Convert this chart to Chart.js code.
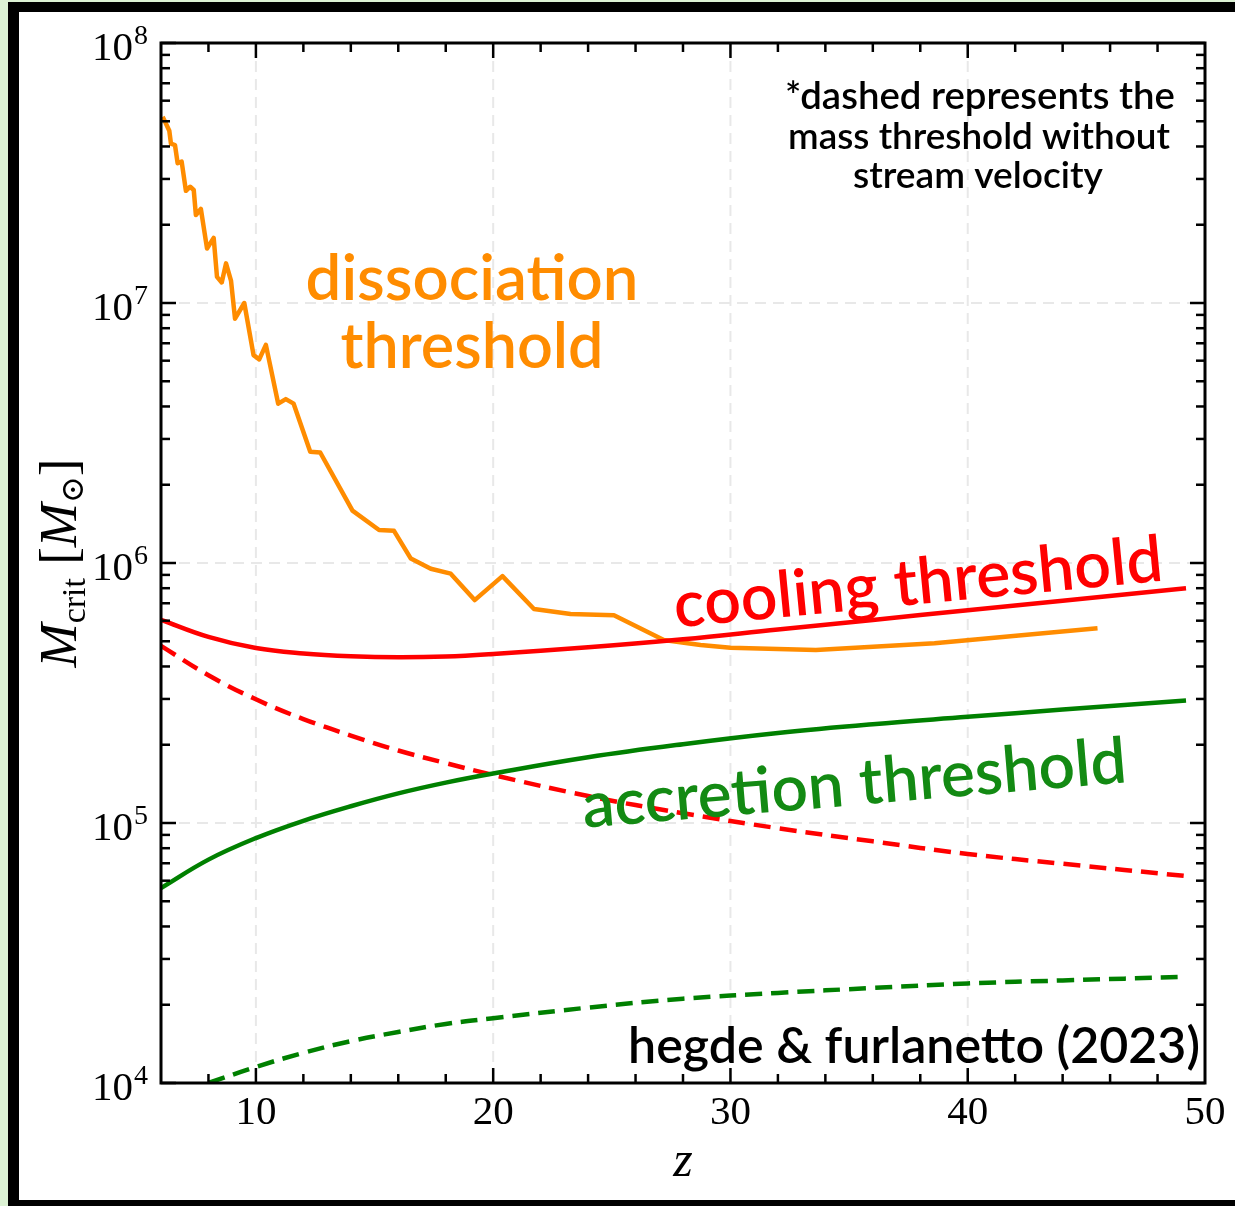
<!DOCTYPE html>
<html>
<head>
<meta charset="utf-8">
<script src="https://cdn.jsdelivr.net/npm/chart.js@4.4.1/dist/chart.umd.min.js"></script>
<style>
  html, body { margin: 0; padding: 0; background: #dcf2d4; overflow: hidden; width: 1235px; height: 1206px; }
  #frame { position: absolute; left: 8px; top: 2px; width: 1260px; height: 1188px;
           border: 10px solid #000; border-left-width: 11px; background: #fff; }
  #chart { position: absolute; left: 0; top: 0; }
</style>
</head>
<body>
<div id="frame"></div>
<canvas id="chart" width="1235" height="1206"></canvas>
<script>
// redshift grid shared by the smooth threshold curves
const smoothZ = [6, 8, 10, 12, 14, 16, 18, 20, 24, 28, 32, 36, 40, 44, 49.2];

// cooling threshold, with and without stream velocity
const coolingM   = [6.05e5, 5.2e5, 4.71e5, 4.49e5, 4.38e5, 4.34e5, 4.37e5, 4.47e5, 4.74e5, 5.09e5, 5.55e5, 6.04e5, 6.58e5, 7.16e5, 8.0e5];
const coolingNoV = [4.8e5, 3.7e5, 2.99e5, 2.51e5, 2.17e5, 1.9e5, 1.7e5, 1.53e5, 1.27e5, 1.09e5, 9.55e4, 8.5e4, 7.6e4, 6.97e4, 6.25e4];

// accretion threshold, with and without stream velocity
const accretionM    = [5.62e4, 7.23e4, 8.75e4, 1.02e5, 1.16e5, 1.3e5, 1.43e5, 1.55e5, 1.79e5, 2.01e5, 2.22e5, 2.4e5, 2.56e5, 2.73e5, 2.96e5];
const accretionZNoV = [8, 10, 12, 14, 16, 18, 20, 24, 28, 32, 36, 40, 44, 49.2];
const accretionNoV  = [1.0e4, 1.153e4, 1.306e4, 1.449e4, 1.571e4, 1.687e4, 1.774e4, 1.95e4, 2.11e4, 2.22e4, 2.32e4, 2.415e4, 2.48e4, 2.56e4];

// dissociation threshold (noisy, straight segments)
const dissocZ = [6.07, 6.35, 6.42, 6.59, 6.70, 6.87, 7.05, 7.23, 7.38, 7.47, 7.68, 7.94, 8.22, 8.36, 8.56, 8.74, 8.95,
                 9.12, 9.51, 9.90, 10.14, 10.42, 10.94, 11.26, 11.59, 12.29, 12.71, 14.07, 15.19, 15.82, 16.53, 17.37,
                 18.21, 19.22, 20.39, 21.72, 23.26, 25.09, 27.19, 28.74, 30.0, 33.6, 38.6, 45.47];
const dissocM = [5.2e7, 4.6e7, 4.1e7, 4.05e7, 3.45e7, 3.5e7, 2.7e7, 2.8e7, 2.72e7, 2.18e7, 2.3e7, 1.62e7, 1.78e7, 1.26e7,
                 1.2e7, 1.42e7, 1.22e7, 8.7e6, 1.0e7, 6.3e6, 6.07e6, 6.9e6, 4.1e6, 4.27e6, 4.1e6, 2.68e6, 2.66e6, 1.59e6,
                 1.34e6, 1.33e6, 1.04e6, 9.5e5, 9.1e5, 7.2e5, 8.9e5, 6.65e5, 6.37e5, 6.3e5, 5.06e5, 4.84e5, 4.72e5,
                 4.63e5, 4.91e5, 5.61e5];

// axis ticks
const xMajor = [10, 20, 30, 40, 50];
const yExponents = [4, 5, 6, 7, 8];

const ORANGE = '#ff8c00', RED = '#ff0000', GREEN = '#008000';
const serif = '"Liberation Serif", "DejaVu Serif", serif';
const sans = 'Lato, "Open Sans", sans-serif';

function pts(xs, ys) {
    return xs.map((x, i) => ({ x: x, y: ys[i] }));
}

function line(ctx, x1, y1, x2, y2) {
    ctx.beginPath();
    ctx.moveTo(x1, y1);
    ctx.lineTo(x2, y2);
    ctx.stroke();
}

// scale a font so the text spans the given width
function fitFont(ctx, text, width, weight, family) {
    ctx.font = `${weight} 100px ${family}`;
    const size = 100 * width / ctx.measureText(text).width;
    ctx.font = `${weight} ${size}px ${family}`;
    return size;
}

function rotatedText(ctx, text, cx, cy, deg, width, color) {
    ctx.save();
    ctx.translate(cx, cy);
    ctx.rotate(-deg * Math.PI / 180);
    ctx.fillStyle = color;
    ctx.textAlign = 'center';
    ctx.textBaseline = 'alphabetic';
    fitFont(ctx, text, width, 600, sans);
    ctx.fillText(text, 0, 0);
    ctx.restore();
}

const axesPlugin = {
    id: 'axesPlugin',
    beforeDatasetsDraw(chart) {
        const { ctx, chartArea: a, scales: { x, y } } = chart;
        ctx.save();
        ctx.strokeStyle = '#e8e8e8';
        ctx.lineWidth = 2;
        ctx.setLineDash([11, 7]);
        xMajor.filter(v => v < 50).forEach(v => {
            const px = x.getPixelForValue(v);
            line(ctx, px, a.top, px, a.bottom);
        });
        yExponents.filter(e => e > 4 && e < 8).forEach(e => {
            const py = y.getPixelForValue(Math.pow(10, e));
            line(ctx, a.left, py, a.right, py);
        });
        ctx.restore();
    },
    afterDatasetsDraw(chart) {
        const { ctx, chartArea: a, scales: { x, y } } = chart;
        ctx.save();

        // ticks on all four sides, pointing inward
        ctx.strokeStyle = '#000';
        ctx.lineWidth = 2.5;
        for (let v = 8; v < 50; v += 2) {
            const len = v % 10 === 0 ? 15 : 9;
            const px = x.getPixelForValue(v);
            line(ctx, px, a.bottom, px, a.bottom - len);
            line(ctx, px, a.top, px, a.top + len);
        }
        for (let e = 4; e <= 8; e++) {
            for (let m = 1; m <= 9; m++) {
                if (e === 8 && m > 1) break;
                const len = m === 1 ? 15 : 9;
                const py = y.getPixelForValue(m * Math.pow(10, e));
                line(ctx, a.left, py, a.left + len, py);
                line(ctx, a.right, py, a.right - len, py);
            }
        }

        // axes box
        ctx.lineWidth = 3;
        ctx.strokeRect(a.left, a.top, a.right - a.left, a.bottom - a.top);

        // tick labels
        ctx.fillStyle = '#000';
        ctx.textBaseline = 'alphabetic';
        ctx.font = `41px ${serif}`;
        ctx.textAlign = 'center';
        xMajor.forEach(v => ctx.fillText(String(v), x.getPixelForValue(v), a.bottom + 41));
        yExponents.forEach(e => {
            const py = y.getPixelForValue(Math.pow(10, e));
            ctx.font = `41px ${serif}`;
            ctx.textAlign = 'right';
            ctx.fillText('10', a.left - 28, py + 17);
            ctx.font = `28px ${serif}`;
            ctx.textAlign = 'left';
            ctx.fillText(String(e), a.left - 27, py + 1);
        });

        // axis titles
        ctx.font = `italic 50px ${serif}`;
        ctx.textAlign = 'center';
        ctx.fillText('z', (a.left + a.right) / 2, a.bottom + 93);

        const parts = [
            { t: 'M', f: `italic 53px ${serif}`, dy: 0 },
            { t: 'crit', f: `34px ${serif}`, dy: 9 },
            { t: ' [', f: `53px ${serif}`, dy: 0 },
            { t: 'M', f: `italic 53px ${serif}`, dy: 0 },
            { t: '\u2299', f: `32px "DejaVu Serif", serif`, dy: 7 },
            { t: ']', f: `53px ${serif}`, dy: 0 }
        ];
        let total = 0;
        parts.forEach(p => { ctx.font = p.f; p.w = ctx.measureText(p.t).width; total += p.w; });
        ctx.translate(76, (a.top + a.bottom) / 2);
        ctx.rotate(-Math.PI / 2);
        ctx.textAlign = 'left';
        let cx = -total / 2;
        parts.forEach(p => { ctx.font = p.f; ctx.fillText(p.t, cx, p.dy); cx += p.w; });
        ctx.restore();

        // curve labels
        ctx.save();
        ctx.textBaseline = 'alphabetic';
        ctx.textAlign = 'center';
        ctx.fillStyle = ORANGE;
        fitFont(ctx, 'dissociation', 333, 600, sans);
        ctx.fillText('dissociation', 472, 300);
        fitFont(ctx, 'threshold', 263, 600, sans);
        ctx.fillText('threshold', 472, 368);
        ctx.restore();

        rotatedText(ctx, 'cooling threshold', 920, 604, 5.5, 491, RED);
        rotatedText(ctx, 'accretion threshold', 856, 805, 4.8, 546, '#138a13');

        // note and citation
        ctx.save();
        ctx.fillStyle = '#000';
        ctx.textAlign = 'center';
        fitFont(ctx, '*dashed represents the', 390, 600, sans);
        ctx.fillText('*dashed represents the', 980, 109);
        fitFont(ctx, 'mass threshold without', 382, 600, sans);
        ctx.fillText('mass threshold without', 979, 149);
        fitFont(ctx, 'stream velocity', 250, 600, sans);
        ctx.fillText('stream velocity', 978, 188);
        ctx.textAlign = 'right';
        fitFont(ctx, 'hegde & furlanetto (2023)', 572, 600, sans);
        ctx.fillText('hegde & furlanetto (2023)', 1200, 1063);
        ctx.restore();
    }
};

const curve = { borderWidth: 4.5, tension: 0.4, borderCapStyle: 'butt' };

new Chart(document.getElementById('chart'), {
    type: 'line',
    data: {
        datasets: [
            { ...curve, data: pts(accretionZNoV, accretionNoV), borderColor: GREEN, borderDash: [17, 9] },
            { ...curve, data: pts(smoothZ, accretionM), borderColor: GREEN },
            { ...curve, data: pts(smoothZ, coolingNoV), borderColor: RED, borderDash: [17, 9] },
            { ...curve, data: pts(smoothZ, coolingM), borderColor: RED },
            { data: pts(dissocZ, dissocM), borderColor: ORANGE, borderWidth: 4.5, tension: 0, borderJoinStyle: 'round' }
        ]
    },
    options: {
        responsive: false,
        animation: false,
        events: [],
        elements: { point: { radius: 0 } },
        layout: { padding: { left: 161, top: 43, right: 30, bottom: 123 } },
        plugins: { legend: { display: false }, tooltip: { enabled: false } },
        scales: {
            x: { type: 'linear', min: 6, max: 50, display: false },
            y: { type: 'logarithmic', min: 1e4, max: 1e8, display: false }
        }
    },
    plugins: [axesPlugin]
});
</script>
</body>
</html>
